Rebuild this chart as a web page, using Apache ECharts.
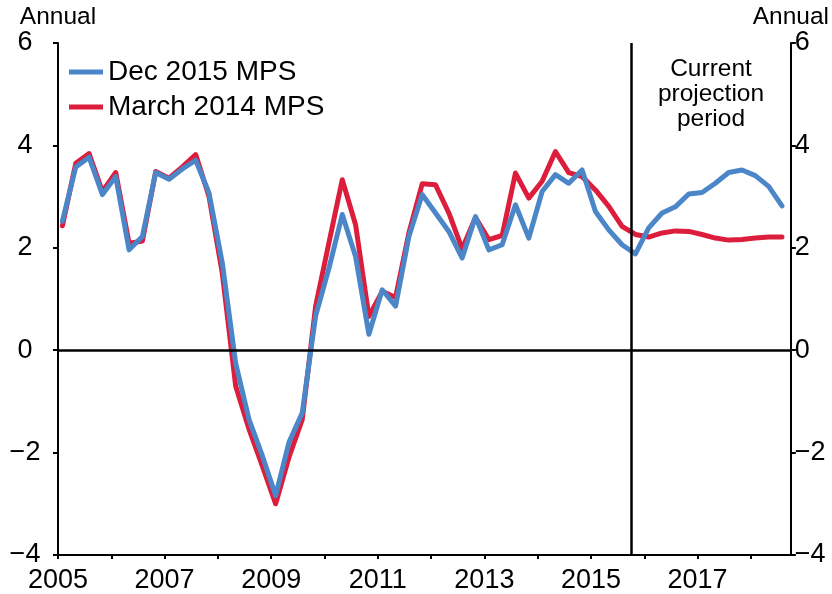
<!DOCTYPE html>
<html>
<head>
<meta charset="utf-8">
<script src="https://cdn.jsdelivr.net/npm/echarts@6/dist/echarts.min.js"></script>
<style>
html,body{margin:0;padding:0;background:#fff;}
#chart{width:832px;height:594px;}
</style>
</head>
<body>
<div id="chart"></div>
<script>
// Quarterly data, 2005 Q1 to 2018 Q3 (annual % change)
var firstYear = 2005;
var quarterCount = 55;
var dec2015 = [2.52,3.58,3.77,3.04,3.39,1.96,2.22,3.47,3.34,3.54,3.71,3.07,1.70,-0.25,-1.35,-2.06,-2.84,-1.80,-1.22,0.67,1.60,2.65,1.83,0.31,1.18,0.86,2.22,3.04,2.68,2.32,1.80,2.61,1.96,2.06,2.84,2.19,3.10,3.43,3.26,3.52,2.71,2.35,2.06,1.88,2.39,2.68,2.80,3.05,3.08,3.26,3.47,3.52,3.41,3.20,2.82];
var mar2014 = [2.43,3.65,3.84,3.10,3.47,2.09,2.13,3.49,3.36,3.58,3.82,3.00,1.50,-0.70,-1.54,-2.26,-3.00,-2.09,-1.35,0.86,2.10,3.33,2.45,0.66,1.15,1.03,2.29,3.25,3.23,2.68,1.98,2.59,2.16,2.24,3.46,2.97,3.30,3.88,3.47,3.39,3.13,2.81,2.42,2.26,2.21,2.29,2.33,2.32,2.26,2.19,2.15,2.16,2.19,2.21,2.21];
var xTickLabels = ['2005','2007','2009','2011','2013','2015','2017'];
var projectionStart = 2015.75;
var seriesNames = ['Dec 2015 MPS','March 2014 MPS'];

var xs = [];
for (var i = 0; i < quarterCount; i++) { xs.push(firstYear + 1/12 + 0.25 * i); }
function pairs(vals){ return vals.map(function(v,i){ return [xs[i], v]; }); }

var font = 'Liberation Sans, Arial, sans-serif';
function yFmt(v){ return v < 0 ? '\u2212' + Math.abs(v) : String(v); }

var chart = echarts.init(document.getElementById('chart'));
chart.setOption({
  animation: false,
  backgroundColor: '#fff',
  textStyle: {fontFamily: font, color: '#000'},
  grid: {left: 58, right: 39, top: 43, bottom: 38},
  legend: {
    data: seriesNames,
    orient: 'vertical',
    left: 64, top: 52,
    itemWidth: 34, itemHeight: 5, itemGap: 5,
    icon: 'rect',
    textStyle: {fontFamily: font, fontSize: 28, color: '#000', lineHeight: 30}
  },
  xAxis: {
    type: 'value', min: 2005, max: 2018.75, interval: 1,
    axisLine: {onZero: false, lineStyle: {color: '#000', width: 2}},
    axisTick: {show: true, inside: false, length: 4, lineStyle: {color: '#000', width: 2}},
    splitLine: {show: false},
    axisLabel: {
      fontSize: 27, color: '#000', fontFamily: font, margin: 12,
      showMaxLabel: false,
      formatter: function(v){ var s = String(Math.round(v)); return (Math.abs(v - Math.round(v)) < 1e-6 && xTickLabels.indexOf(s) >= 0) ? s : ''; }
    }
  },
  yAxis: [{
    type: 'value', min: -4, max: 6, interval: 2, position: 'left',
    name: 'Annual', nameLocation: 'end', nameGap: 10,
    nameTextStyle: {fontSize: 24.5, color: '#000', fontFamily: font, align: 'center'},
    axisLine: {show: true, lineStyle: {color: '#000', width: 2}},
    axisTick: {show: true, length: 5, lineStyle: {color: '#000', width: 2}},
    splitLine: {show: false},
    axisLabel: {fontSize: 27, color: '#000', fontFamily: font, margin: 33, align: 'center', formatter: yFmt}
  }, {
    type: 'value', min: -4, max: 6, interval: 2, position: 'right',
    name: 'Annual', nameLocation: 'end', nameGap: 10,
    nameTextStyle: {fontSize: 24.5, color: '#000', fontFamily: font, align: 'center'},
    axisLine: {show: true, lineStyle: {color: '#000', width: 2}},
    axisTick: {show: true, length: 5, lineStyle: {color: '#000', width: 2}},
    splitLine: {show: false},
    axisLabel: {fontSize: 27, color: '#000', fontFamily: font, margin: 4, formatter: yFmt}
  }],
  graphic: [{
    type: 'text', x: 711, y: 57,
    style: {
      text: 'Current\nprojection\nperiod',
      font: '24.5px ' + font, fill: '#000',
      textAlign: 'center', textVerticalAlign: 'top', lineHeight: 25
    }
  }],
  series: [{
    name: seriesNames[1], type: 'line', data: pairs(mar2014),
    showSymbol: false, symbol: 'none', z: 3,
    lineStyle: {color: '#dc1e3c', width: 5, cap: 'round', join: 'round'},
    itemStyle: {color: '#dc1e3c'},
    markLine: {
      silent: true, symbol: 'none', animation: false,
      label: {show: false},
      lineStyle: {color: '#000', width: 2.5, type: 'solid'},
      data: [{yAxis: 0}, {xAxis: projectionStart}]
    }
  }, {
    name: seriesNames[0], type: 'line', data: pairs(dec2015),
    showSymbol: false, symbol: 'none', z: 4,
    lineStyle: {color: '#4a86c8', width: 5, cap: 'round', join: 'round'},
    itemStyle: {color: '#4a86c8'}
  }]
});
</script>
</body>
</html>
